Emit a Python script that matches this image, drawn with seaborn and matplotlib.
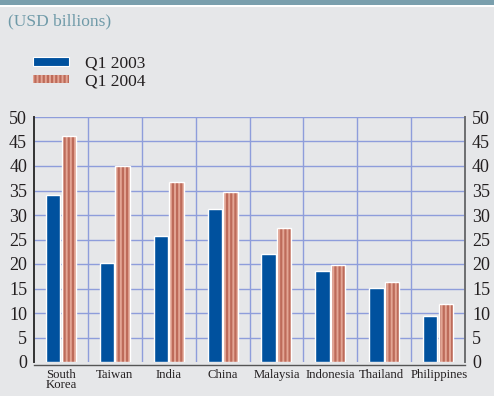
import matplotlib
matplotlib.use("Agg")
import matplotlib.pyplot as plt
import seaborn as sns
import pandas as pd
from matplotlib.patches import Rectangle, Patch

countries = ["South\nKorea", "Taiwan", "India", "China", "Malaysia",
             "Indonesia", "Thailand", "Philippines"]
q1_2003 = [34.1, 20.3, 25.8, 31.3, 22.0, 18.5, 15.2, 9.4]
q1_2004 = [46.2, 40.0, 36.7, 34.6, 27.4, 19.7, 16.3, 11.9]
series = ["Q1 2003", "Q1 2004"]
yticks = [0, 5, 10, 15, 20, 25, 30, 35, 40, 45, 50]
unit_label = "(USD billions)"

BG = "#e6e7e9"
BLUE = "#00519e"
PINK_LIGHT = "#e3a594"
PINK_DARK = "#bd6b5a"
GRID = "#8e9ddb"
TEAL = "#6f9aa8"
TEXT = "#231f20"

sns.set_theme(style="white")
plt.rcParams["font.family"] = ["Liberation Serif", "DejaVu Serif"]
plt.rcParams["hatch.linewidth"] = 1.6

df = pd.DataFrame({
    "country": countries * 2,
    "value": q1_2003 + q1_2004,
    "period": [series[0]] * len(countries) + [series[1]] * len(countries),
})

fig = plt.figure(figsize=(4.94, 3.96), dpi=100, facecolor=BG)
ax = fig.add_axes([34 / 494, 1 - 362 / 396, 431 / 494, 245 / 396])
ax.set_facecolor(BG)

sns.barplot(data=df, x="country", y="value", hue="period",
            palette=[BLUE, PINK_LIGHT], saturation=1, width=0.58, gap=0.08,
            ax=ax, legend=False, zorder=3)

# striped fill for the 2004 bars, white outline on every bar
for i, container in enumerate(ax.containers):
    for bar in container:
        if i == 1:
            bar.set_hatch("||||")
            bar.set_edgecolor(PINK_DARK)
        else:
            bar.set_edgecolor("none")
        bar.set_linewidth(0)
        x, y = bar.get_xy()
        ax.add_patch(Rectangle((x, y), bar.get_width(), bar.get_height(),
                               facecolor="none", edgecolor="white",
                               linewidth=1.0, zorder=4))

n = len(countries)
ax.set_xlim(-0.5, n - 0.5)
ax.set_ylim(0, 50)
ax.set_xlabel("")
ax.set_ylabel("")

# grid: horizontal at every tick, vertical between countries
for v in yticks[1:]:
    ax.axhline(v, color=GRID, linewidth=1.0, zorder=1)
for k in range(n - 1):
    ax.axvline(k + 0.5, color=GRID, linewidth=1.0, zorder=1)

ax.set_yticks(yticks)
ax.set_yticklabels([str(t) for t in yticks], fontsize=13, color=TEXT)
ax.tick_params(axis="y", length=0, pad=5, labelleft=True, labelright=True,
               left=False, right=False)
for t in ax.yaxis.get_major_ticks():
    t.label2.set_horizontalalignment("left")
    t.label2.set_fontsize(13)
    t.label2.set_color(TEXT)

# category names under each group, bracket ticks between groups
ax.set_xticks([k + 0.5 for k in range(-1, n)])
ax.set_xticklabels([])
ax.tick_params(axis="x", direction="in", length=4, width=1.0,
               color="#555555")
nudge = {n - 2: -2, n - 1: 1}
for i, name in enumerate(countries):
    ax.annotate(name, xy=(i, 0), xycoords=("data", "axes fraction"),
                xytext=(nudge.get(i, 0), -5), textcoords="offset points",
                ha="center", va="top", fontsize=9.2, color=TEXT,
                linespacing=0.75, annotation_clip=False)

ax.spines["top"].set_visible(False)
ax.spines["left"].set_color("#333333")
ax.spines["left"].set_linewidth(1.4)
ax.spines["right"].set_color("#6d6e70")
ax.spines["right"].set_linewidth(1.4)
ax.spines["bottom"].set_color("#555555")
ax.spines["bottom"].set_linewidth(1.0)
ax.spines["bottom"].set_position(("outward", 2))
ax.spines["left"].set_zorder(5)

# header band
fig.add_artist(Rectangle((0, 1 - 5 / 396), 1, 5 / 396, transform=fig.transFigure,
                         facecolor="#7a9fad", edgecolor="none"))
fig.add_artist(Rectangle((0, 1 - 7 / 396), 1, 2 / 396, transform=fig.transFigure,
                         facecolor="white", edgecolor="none"))
fig.text(8 / 494, 1 - 21 / 396, unit_label, fontsize=12.5, color=TEAL,
         va="center", ha="left")

handles = [Patch(facecolor=BLUE, edgecolor="white", linewidth=0.8),
           Patch(facecolor=PINK_LIGHT, edgecolor=PINK_DARK, hatch="||||",
                 linewidth=0)]
fig.legend(handles, series, loc="upper left",
           bbox_to_anchor=(24 / 494, 1 - 47 / 396), frameon=False,
           fontsize=12.5, handlelength=2.1, handleheight=0.35,
           labelspacing=0.1, handletextpad=0.9, borderpad=0,
           labelcolor=TEXT)

fig.savefig("out.png", dpi=100, facecolor=BG)
